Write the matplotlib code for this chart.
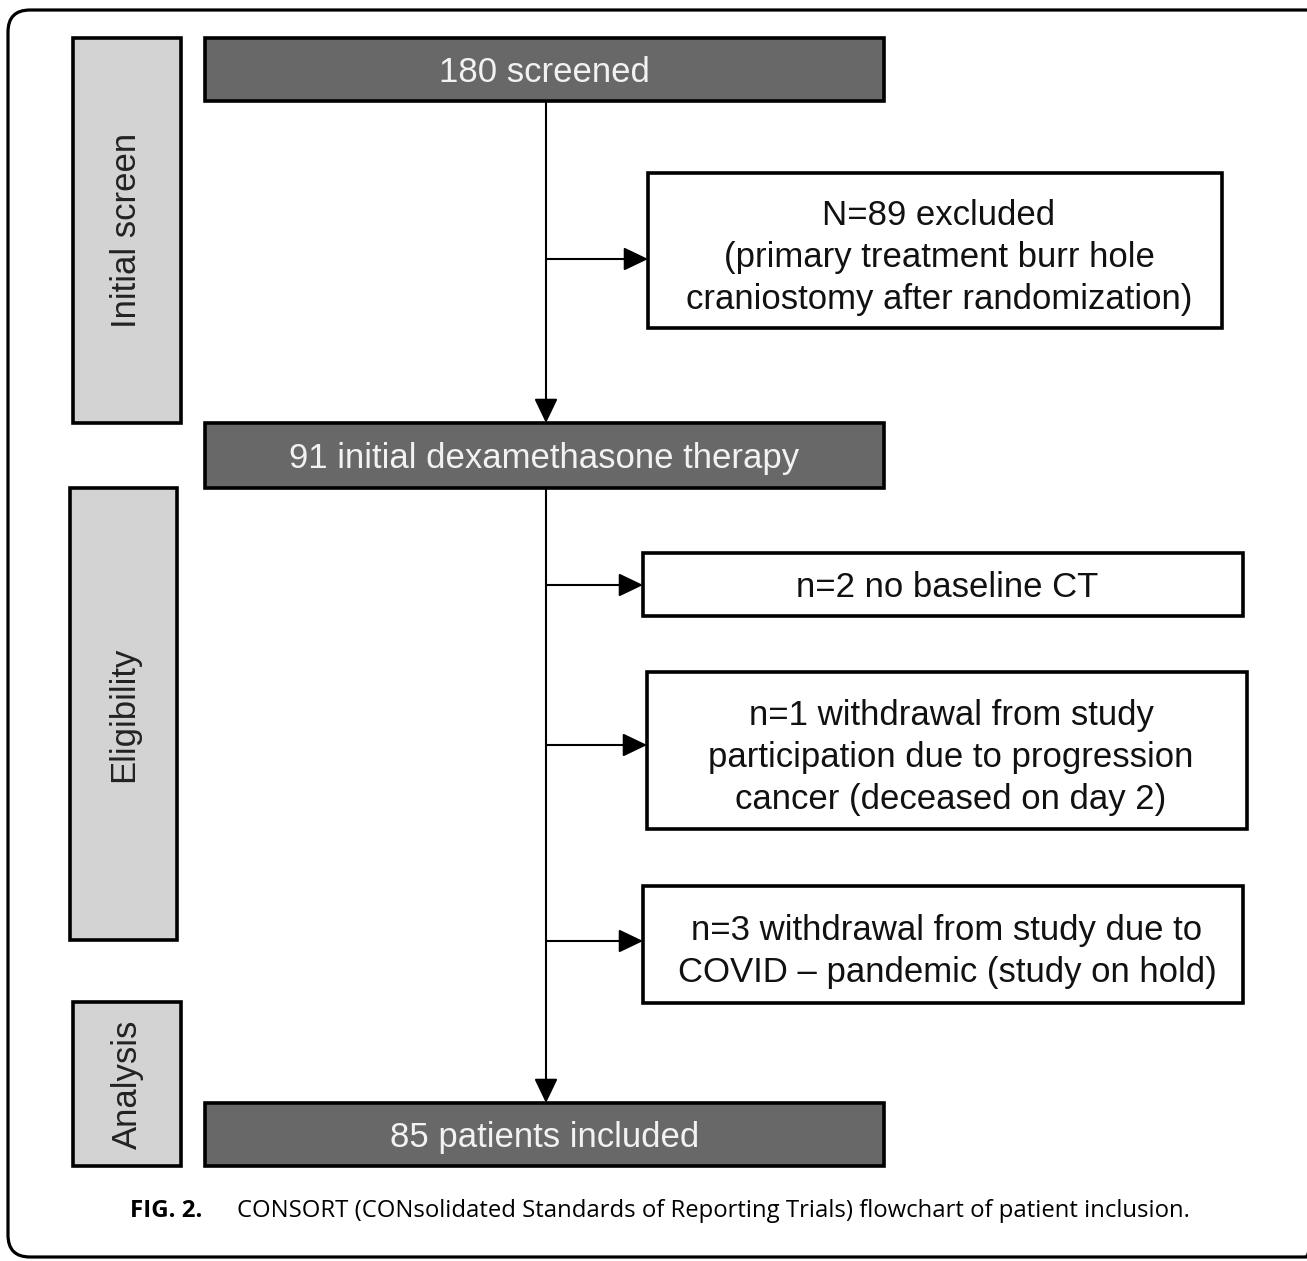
import matplotlib
matplotlib.use("Agg")
import matplotlib.pyplot as plt
from matplotlib.patches import Rectangle, FancyBboxPatch

# ---- data ----
stage_labels = ["Initial screen", "Eligibility", "Analysis"]
main_labels = ["180 screened", "91 initial dexamethasone therapy", "85 patients included"]
excl_labels = [
    "N=89 excluded\n(primary treatment burr hole\ncraniostomy after randomization)",
    "n=2 no baseline CT",
    "n=1 withdrawal from study\nparticipation due to progression\ncancer (deceased on day 2)",
    "n=3 withdrawal from study due to\nCOVID \u2013 pandemic (study on hold)",
]
caption_bold = "FIG. 2."
caption_text = "CONSORT (CONsolidated Standards of Reporting Trials) flowchart of patient inclusion."

# ---- layout (pixel coordinates: x0, y0, x1, y1) ----
W, H = 1307, 1261
stage_boxes = [(73, 38, 181, 423), (70, 488, 177, 940), (73, 1002, 181, 1166)]
main_boxes = [(205, 38, 884, 101), (205, 423, 884, 488), (205, 1103, 884, 1166)]
excl_boxes = [(648, 173, 1222, 328), (643, 553, 1243, 616), (647, 672, 1247, 829), (643, 886, 1243, 1003)]
arrow_y = [259, 585, 745, 941]
spine_x = 546

DARK = "#686868"
LIGHT = "#d3d3d3"

fig = plt.figure(figsize=(W / 100, H / 100), dpi=100)
ax = fig.add_axes([0, 0, 1, 1])
ax.set_xlim(0, W)
ax.set_ylim(H, 0)
ax.axis("off")

font_box = ["Liberation Sans", "DejaVu Sans"]
font_cap = ["Open Sans", "DejaVu Sans"]
FS = 25

# outer rounded frame
frame = FancyBboxPatch((8, 10), 1320, 1247, boxstyle="round,pad=0,rounding_size=22",
                       fill=False, edgecolor="black", linewidth=2.3, zorder=1)
ax.add_patch(frame)

def box(b, fc, lw=2.6):
    x0, y0, x1, y1 = b
    ax.add_patch(Rectangle((x0, y0), x1 - x0, y1 - y0, facecolor=fc,
                           edgecolor="black", linewidth=lw, zorder=3))

for b, lab in zip(stage_boxes, stage_labels):
    box(b, LIGHT)
    ax.text((b[0] + b[2]) / 2, (b[1] + b[3]) / 2, lab, rotation=90, ha="center",
            va="center", fontsize=FS, family=font_box, color="#222222", zorder=4)

for b, lab in zip(main_boxes, main_labels):
    box(b, DARK)
    ax.text((b[0] + b[2]) / 2, (b[1] + b[3]) / 2 + 3, lab, ha="center", va="center",
            fontsize=FS, family=font_box, color="#f2f2f2", zorder=4)

for b, lab in zip(excl_boxes, excl_labels):
    box(b, "white")
    dy = 7 if "\n" in lab else 3
    ax.text((b[0] + b[2]) / 2 + 4, (b[1] + b[3]) / 2 + dy, lab, ha="center", va="center",
            fontsize=FS, family=font_box, color="#111111", linespacing=1.34, zorder=4)

aprops = dict(arrowstyle="-|>,head_length=0.75,head_width=0.36", mutation_scale=20,
              color="black", linewidth=1.5, shrinkA=0, shrinkB=0)

# vertical spine arrows
ax.annotate("", xy=(spine_x, main_boxes[1][1]), xytext=(spine_x, main_boxes[0][3]),
            arrowprops=aprops, zorder=2)
ax.annotate("", xy=(spine_x, main_boxes[2][1]), xytext=(spine_x, main_boxes[1][3]),
            arrowprops=aprops, zorder=2)

for y, b in zip(arrow_y, excl_boxes):
    ax.annotate("", xy=(b[0], y), xytext=(spine_x, y), arrowprops=aprops, zorder=2)

# caption
ax.text(130, 1217, caption_bold, ha="left", va="baseline", fontsize=17.4,
        family=font_cap, weight="bold", color="black")
ax.text(237, 1217, caption_text, ha="left", va="baseline", fontsize=17.2,
        family=font_cap, color="black")

fig.savefig("out.png", dpi=100)
